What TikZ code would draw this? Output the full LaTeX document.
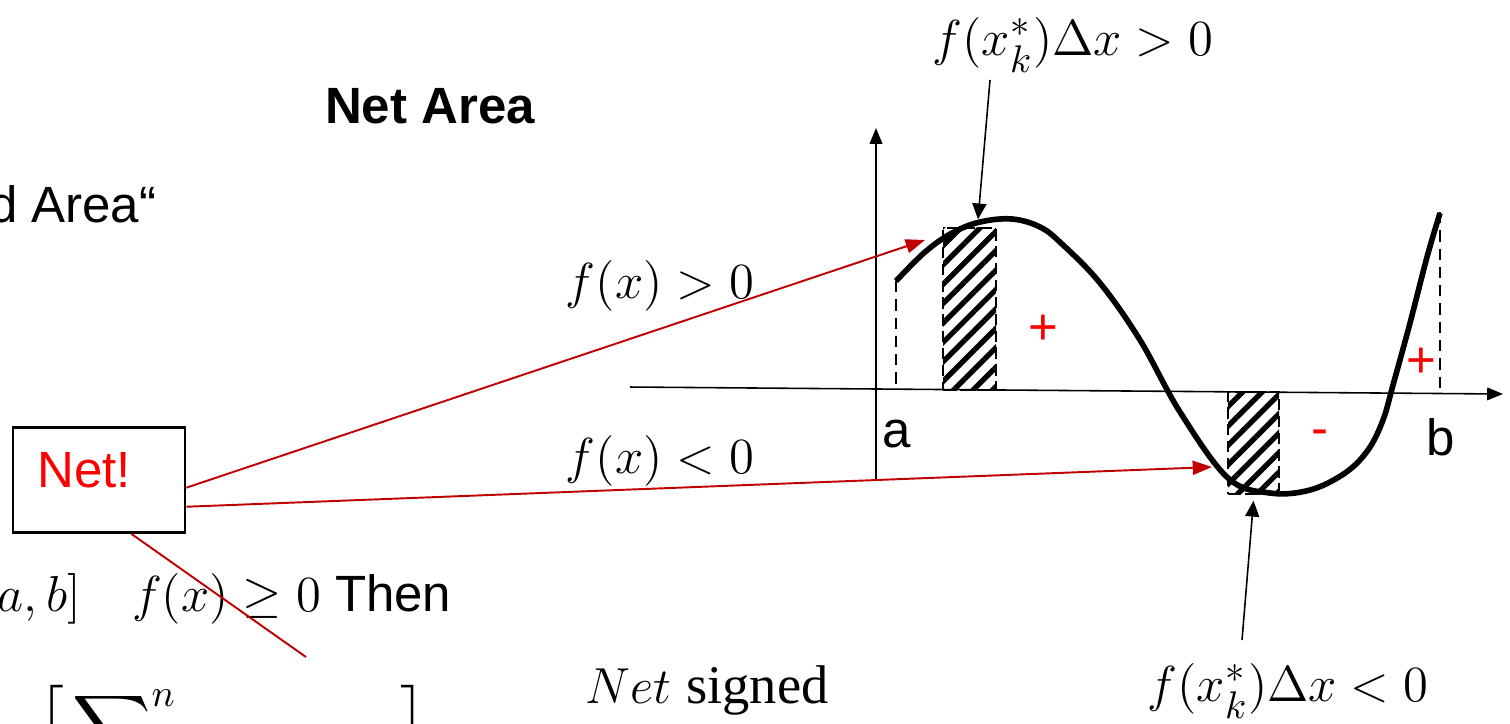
\documentclass[tikz,border=0pt]{standalone}
\usepackage{amsmath,amssymb}
\usepackage{fontspec}
\setmainfont{Liberation Sans}
\newfontfamily\serifnet{Liberation Serif}
\usetikzlibrary{arrows.meta, patterns.meta, positioning}
\definecolor{netline}{RGB}{192, 0, 0}
\definecolor{netsign}{RGB}{255, 0, 0}

\begin{document}
\begin{tikzpicture}[x=0.01cm, y=-0.01cm,
    txt/.style={font=\fontsize{14.5}{17}\selectfont, inner sep=0pt},
    mth/.style={font=\fontsize{15.5}{18}\selectfont, inner sep=0pt},
    netbox/.style={rectangle, draw=black, line width=0.75pt, minimum width=1.72cm, minimum height=1.05cm},
    hatchbar/.style={rectangle, inner sep=0pt,
        pattern={Lines[angle=45, distance=3.9pt, line width=1.5pt]},
        postaction={draw=black, line width=0.6pt, dash pattern=on 3.2pt off 1.6pt}},
    redarrow/.style={draw=netline, line width=0.55pt, -{Triangle[length=5.5pt, width=4pt]}},
    ptr/.style={black, line width=0.45pt, -{Triangle[length=4.5pt, width=4pt]}},
    axis/.style={black, line width=0.45pt, -{Triangle[length=4.5pt, width=3.6pt]}},
    guide/.style={black, line width=0.55pt, dash pattern=on 3.2pt off 2pt},
    curve/.style={black, line width=1.6pt}
]
    \useasboundingbox (0,0) rectangle (1510,723);
    \clip (0,0) rectangle (1510,723);

    \node[txt, font=\fontsize{14.5}{17}\selectfont\bfseries, anchor=base] (title) at (430,123) {Net Area};
    \node[txt, anchor=base east] (signedarea) at (157,222) {d Area“};
    \node[txt, anchor=base east] (cond) at (452,611) {$[a,b]\quad f(x) \geq 0$ Then};
    \node[mth, anchor=north west] (sumrow) at (38,685) {$\displaystyle\Big[\sum\nolimits^{n}\hspace{2.15cm}\Big]$};

    \node[netbox] (netbox) at (99,480) {};
    \node[txt, text=netsign] (nettext) at (84,470) {Net!};

    \node[hatchbar, minimum width=0.53cm, minimum height=1.62cm] (posbar) at (969.5,309) {};
    \node[hatchbar, minimum width=0.51cm, minimum height=1.02cm] (negbar) at (1253.5,443) {};

    \draw[axis] (630,387) -- (1503,394);
    \draw[axis] (876,480) -- (876,128);

    \draw[guide] (896,281) -- (896,390);
    \draw[guide] (1440,212) -- (1440,392);

    \draw[curve] plot[smooth, tension=0.6] coordinates {(896,281) (925,252) (952,233) (980,222) (1012,219) (1040,227) (1062,244) (1100,283) (1140,340) (1180,412) (1228,478) (1270,493) (1310,490) (1345,473) (1368,450) (1383,420) (1393,385) (1410,323) (1427,257) (1440,213)};

    \node[mth, anchor=base] (poslabel) at (1073,55) {$f(x_k^*)\Delta x > 0$};
    \node[mth, anchor=base] (neglabel) at (1288,701) {$f(x_k^*)\Delta x < 0$};
    \node[mth, anchor=base] (gtlabel) at (660,298) {$f(x) > 0$};
    \node[mth, anchor=base] (ltlabel) at (660,473) {$f(x) < 0$};
    \node[mth, anchor=base] (netsigned) at (707,703) {$Net$ {\serifnet signed}};

    \node[txt, text=netsign] (plusA) at (1043,330) {+};
    \node[txt, text=netsign] (minus) at (1320,438) {-};
    \node[txt, text=netsign] (plusB) at (1421,363) {+};
    \node[txt, anchor=base] (alabel) at (897,447) {a};
    \node[txt, anchor=base] (blabel) at (1441,455) {b};

    \coordinate (uptip) at (925,240);
    \coordinate (lowtip) at (1212,467);
    \coordinate (crossend) at (306,657);
    \coordinate (postail) at (990,80);
    \coordinate (negtail) at (1242,640);

    \draw[redarrow] (netbox.-5) -- (uptip);
    \draw[redarrow] (netbox.-17) -- (lowtip);
    \draw[draw=netline, line width=0.55pt] (netbox.-59) -- (crossend);

    \draw[ptr] (postail) -- ([xshift=0.085cm, yshift=0.06cm]posbar.north);
    \draw[ptr] (negtail) -- ([yshift=-0.06cm]negbar.south);
\end{tikzpicture}
\end{document}
